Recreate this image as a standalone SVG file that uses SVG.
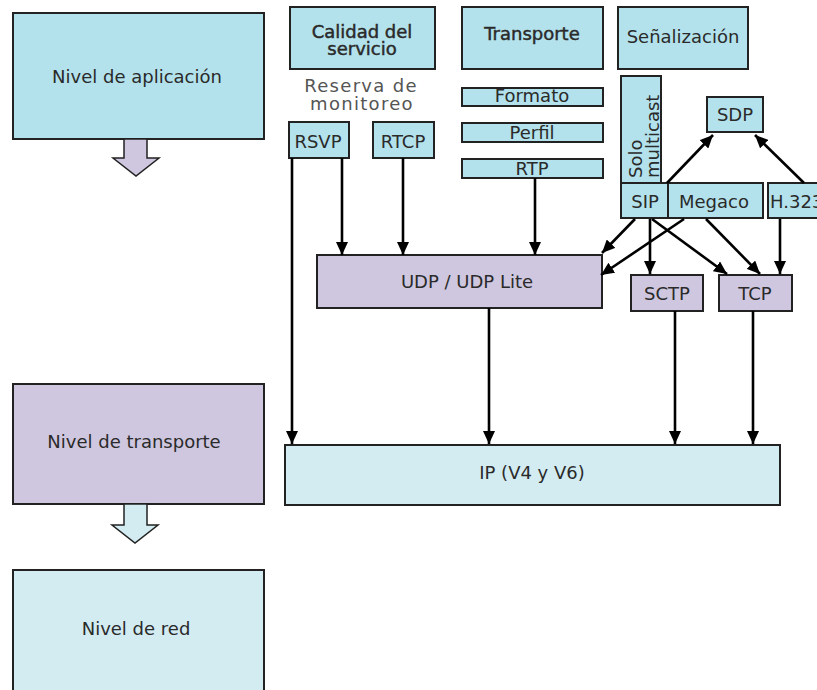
<svg xmlns="http://www.w3.org/2000/svg" width="817" height="690" viewBox="0 0 817 690">
  <style>
    .box { stroke: #222; stroke-width: 2; }
    .cyan { fill: #b3e2ec; }
    .pale { fill: #d3ecf2; }
    .lilac { fill: #cfc7df; }
    text { font-family: "DejaVu Sans", "Noto Sans", sans-serif; font-size: 18px; fill: #2a2a2a; text-anchor: middle; }
    .med { stroke: #2a2a2a; stroke-width: 0.45; }
    .note { fill: #555; letter-spacing: 1.3px; }
    .wire { stroke: #000; stroke-width: 2.6; fill: none; marker-end: url(#head); }
    .block { stroke: #222; stroke-width: 1.5; }
  </style>
  <defs>
    <marker id="head" markerUnits="userSpaceOnUse" markerWidth="13" markerHeight="12" refX="13" refY="6" orient="auto">
      <path d="M0,0 L13,6 L0,12 z" fill="#000"/>
    </marker>
  </defs>

  <rect width="817" height="690" fill="#fff"/>

  <!-- Layer column -->
  <g id="nivel-aplicacion">
    <rect class="box cyan" x="13" y="13" width="251" height="126"/>
    <text x="137" y="83">Nivel de aplicación</text>
  </g>
  <g id="flecha-1">
    <polygon class="block lilac" points="124,139 147,139 147,158 159,158 136,176 113,158 124,158"/>
  </g>
  <g id="nivel-transporte">
    <rect class="box lilac" x="13" y="384" width="251" height="120"/>
    <text x="134" y="448">Nivel de transporte</text>
  </g>
  <g id="flecha-2">
    <polygon class="block pale" points="124,504 147,504 147,525 158,525 135,543 112,525 124,525"/>
  </g>
  <g id="nivel-red">
    <rect class="box pale" x="13" y="570" width="251" height="130"/>
    <text x="136" y="635">Nivel de red</text>
  </g>

  <!-- Category headers -->
  <g id="calidad">
    <rect class="box cyan" x="290" y="7" width="145" height="62"/>
    <text class="med" x="362" y="38">Calidad del</text>
    <text class="med" x="362" y="55">servicio</text>
  </g>
  <g id="reserva">
    <text class="note" x="361" y="92">Reserva de</text>
    <text class="note" x="362" y="110">monitoreo</text>
  </g>
  <g id="transporte">
    <rect class="box cyan" x="462" y="7" width="141" height="62"/>
    <text class="med" x="532" y="40">Transporte</text>
  </g>
  <g id="senalizacion">
    <rect class="box cyan" x="618" y="7" width="130" height="62"/>
    <text x="683" y="43">Señalización</text>
  </g>

  <!-- Protocols -->
  <g id="rsvp">
    <rect class="box cyan" x="289" y="122" width="60" height="36"/>
    <text x="318" y="148">RSVP</text>
  </g>
  <g id="rtcp">
    <rect class="box cyan" x="373" y="122" width="61" height="36"/>
    <text x="403" y="148">RTCP</text>
  </g>
  <g id="formato">
    <rect class="box cyan" x="462" y="88" width="141" height="18"/>
    <text x="532" y="102">Formato</text>
  </g>
  <g id="perfil">
    <rect class="box cyan" x="462" y="123" width="141" height="19"/>
    <text x="532" y="139">Perfil</text>
  </g>
  <g id="rtp">
    <rect class="box cyan" x="462" y="159" width="141" height="19"/>
    <text x="532" y="175">RTP</text>
  </g>
  <g id="solo-multicast">
    <rect class="box cyan" x="621" y="76" width="40" height="107"/>
    <text transform="translate(642,178) rotate(-90)" style="text-anchor:start">Solo</text>
    <text transform="translate(659,178) rotate(-90)" style="text-anchor:start">multicast</text>
  </g>
  <g id="sdp">
    <rect class="box cyan" x="707" y="97" width="56" height="35"/>
    <text x="735" y="121">SDP</text>
  </g>
  <g id="sip">
    <rect class="box cyan" x="621" y="183" width="47" height="35"/>
    <text x="645" y="208">SIP</text>
  </g>
  <g id="megaco">
    <rect class="box cyan" x="668" y="183" width="95" height="35"/>
    <text x="714" y="208">Megaco</text>
  </g>
  <g id="h323">
    <rect class="box cyan" x="768" y="183" width="60" height="35"/>
    <text x="770" y="208" style="text-anchor:start">H.323</text>
  </g>
  <g id="udp">
    <rect class="box lilac" x="317" y="255" width="285" height="53"/>
    <text x="467" y="288">UDP / UDP Lite</text>
  </g>
  <g id="sctp">
    <rect class="box lilac" x="631" y="275" width="72" height="36"/>
    <text x="667" y="300">SCTP</text>
  </g>
  <g id="tcp">
    <rect class="box lilac" x="719" y="275" width="73" height="36"/>
    <text x="755" y="300">TCP</text>
  </g>
  <g id="ip">
    <rect class="box pale" x="285" y="445" width="495" height="60"/>
    <text x="532" y="479">IP (V4 y V6)</text>
  </g>

  <!-- Connectors -->
  <g id="connectors">
    <line class="wire" x1="292" y1="158" x2="292" y2="444"/>
    <line class="wire" x1="342" y1="158" x2="342" y2="255"/>
    <line class="wire" x1="403" y1="158" x2="403" y2="255"/>
    <line class="wire" x1="535" y1="178" x2="535" y2="255"/>
    <line class="wire" x1="667" y1="183" x2="713" y2="135"/>
    <line class="wire" x1="804" y1="183" x2="755" y2="135"/>
    <line class="wire" x1="635" y1="219" x2="602" y2="253"/>
    <line class="wire" x1="684" y1="219" x2="601" y2="275"/>
    <line class="wire" x1="650" y1="219" x2="650" y2="274"/>
    <line class="wire" x1="652" y1="219" x2="727" y2="274"/>
    <line class="wire" x1="706" y1="219" x2="760" y2="274"/>
    <line class="wire" x1="780" y1="219" x2="780" y2="274"/>
    <line class="wire" x1="489" y1="308" x2="489" y2="444"/>
    <line class="wire" x1="675" y1="311" x2="675" y2="444"/>
    <line class="wire" x1="753" y1="311" x2="753" y2="444"/>
  </g>
</svg>
